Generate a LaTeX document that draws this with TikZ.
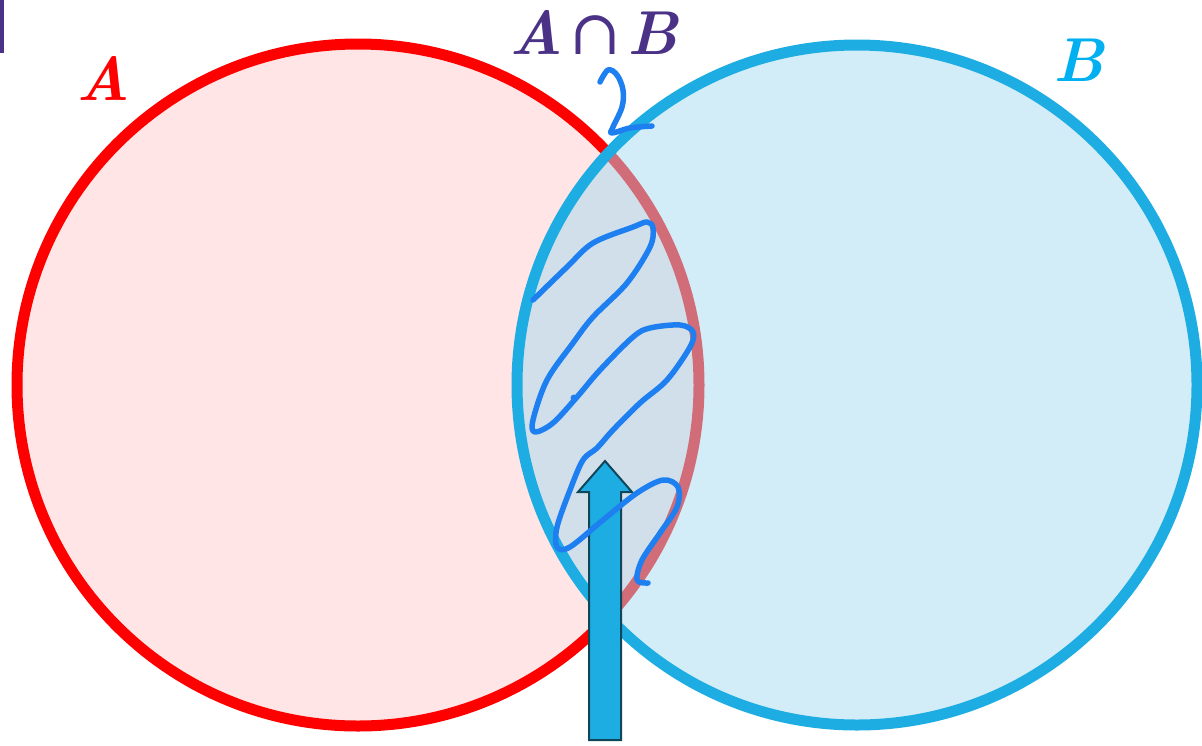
\documentclass[tikz,border=0pt]{standalone}
\usepackage{fontspec}
\newfontfamily\capsignfont{DejaVu Serif}
\definecolor{setred}{RGB}{255,0,0}
\definecolor{setblue}{RGB}{29,173,226}
\definecolor{labelblue}{RGB}{0,176,240}
\definecolor{capviolet}{RGB}{75,50,135}
\definecolor{lensblue}{RGB}{165,219,241}
\definecolor{inkblue}{RGB}{30,128,240}
\definecolor{arrowedge}{RGB}{16,70,90}
\tikzset{
  setlabel/.style={font=\fontsize{62}{68}\selectfont\bfseries\itshape},
  scribble/.style={inkblue,line width=5.5pt,line cap=round,line join=round},
}
\begin{document}
\begin{tikzpicture}[x=1pt,y=-1pt]
  \useasboundingbox (0,0) rectangle (1202,745);
  \fill[capviolet] (0,0) rectangle (4,53);
  % the two sets
  \filldraw[fill=setred!10,draw=setred,line width=11pt] (358,385) circle[radius=341];
  \fill[lensblue,fill opacity=0.5] (857,385) circle[radius=340];
  \draw[setblue,line width=11pt] (857,385) circle[radius=340];
  % block arrow pointing at the overlap
  \filldraw[fill=setblue,draw=arrowedge,line width=2pt,line join=miter]
    (589,740) -- (589,492) -- (578,492) -- (605,461) -- (632,492)
    -- (621,492) -- (621,740) -- cycle;
  % hand-drawn marks
  \draw[scribble] plot[smooth,tension=0.6] coordinates {
    (600,82) (608,70) (617,75) (623,90) (622,107) (613,127) (612,133)
    (630,128) (652,126)};
  \draw[scribble] plot[smooth,tension=0.55] coordinates {
    (533,300) (567,267) (593,243) (633,227) (647,222) (653,228) (650,247)
    (627,283) (593,317) (573,343) (547,380) (533,420) (535,432) (553,423)
    (577,397) (600,370) (633,337) (650,328) (680,325) (693,332) (690,347)
    (667,380) (640,403) (613,430) (597,448) (583,460) (570,490) (557,527)
    (557,547) (570,547) (603,520) (637,493) (663,480) (678,487) (677,507)
    (660,533) (642,560) (637,580) (648,583)};
  \fill[inkblue] (574,398) circle[radius=3.5];
  % labels
  \node[setlabel,text=setred] (labelA) at (103,78) {A};
  \node[setlabel,text=capviolet] (labelAB) at (594,32)
    {A\hspace{0.1em}{\capsignfont\mdseries\upshape ∩}\hspace{0.1em}B};
  \node[setlabel,text=labelblue] (labelB) at (1079,60) {B};
\end{tikzpicture}
\end{document}
